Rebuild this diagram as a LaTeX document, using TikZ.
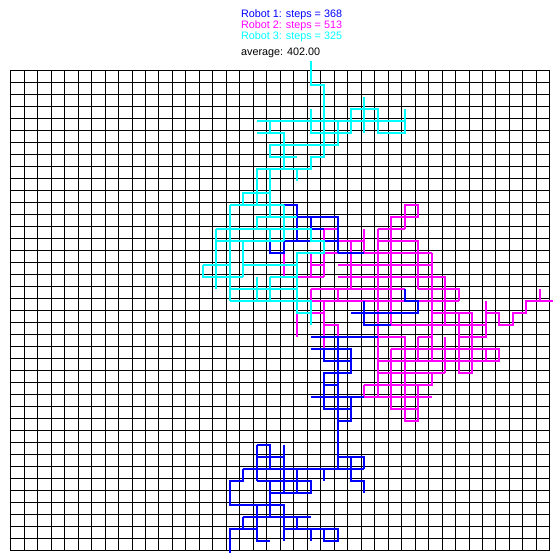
\documentclass[tikz,border=0pt]{standalone}
\usepackage{fontspec}
\setmainfont{Liberation Sans}
\definecolor{robotblue}{RGB}{0,0,255}
\definecolor{robotmagenta}{RGB}{255,0,255}
\definecolor{robotcyan}{RGB}{0,255,255}

\begin{document}
\begin{tikzpicture}[
  x=0.5pt, y=-0.5pt,
  label/.style={anchor=base west, inner sep=0pt, font=\fontsize{5.4}{6}\selectfont},
  gridline/.style={black, line width=0.5pt},
  robotA/.style={robotblue, line width=1pt},
  robotB/.style={robotmagenta, line width=1pt},
  robotC/.style={robotcyan, line width=1pt}
]
\useasboundingbox (0,0) rectangle (560,560);
\fill[white] (0,0) rectangle (560,560);

% Labels
\node[label, text=robotblue] (stepsone) at (240.7,17.3) {Robot 1: steps = 368};
\node[label, text=robotmagenta] (stepstwo) at (240.7,28.3) {Robot 2: steps = 513};
\node[label, text=robotcyan] (stepsthree) at (240.7,39.3) {Robot 3: steps = 325};
\node[label] (average) at (240.7,56) {average: 402.00};

% Grid 40 x 40, lines snapped to pixel centres
\foreach \k in {0,...,40} {
  \pgfmathsetmacro\gx{floor(10.7+13.48*\k)+0.5}
  \pgfmathsetmacro\gy{floor(70.7+12*\k)+0.5}
  \draw[gridline] (\gx,70.5) -- (\gx,550.5);
  \draw[gridline] (10.5,\gy) -- (549.5,\gy);
}

% Walks (grid points, slightly offset from the lines)
\begin{scope}[xshift=7pt, yshift=-36.35pt, x=6.74pt, y=-6pt]
% Robot 2
\draw[robotB] (29,13) -- (29,11) -- (30,11) -- (30,12) -- (28,12) -- (28,21)
  (27,13) -- (29,13)  (27,13) -- (27,27)
  (27,14) -- (30,14) -- (30,18)
  (23,13) -- (24,13) -- (24,15)  (23,13) -- (23,17)
  (26,13) -- (26,15)  (23,14) -- (26,14)
  (23,15) -- (31,15)  (25,14) -- (25,18)  (31,15) -- (31,24)
  (22,15) -- (22,17)  (22,16) -- (23,16)  (24,16) -- (31,16)
  (20,14) -- (20,17) -- (23,17)
  (24,17) -- (32,17) -- (32,21)
  (22,18) -- (29,18)  (30,18) -- (33,18) -- (33,19)
  (22,18) -- (22,19)  (24,18) -- (24,19)  (22,19) -- (33,19)
  (21,17) -- (21,22)  (21,20) -- (23,20)
  (23,19) -- (23,23) -- (24,23) -- (24,21) -- (23,21)
  (28,21) -- (35,21)
  (31,20) -- (34,20) -- (34,25) -- (33,25) -- (33,20)
  (35,19) -- (35,22) -- (33,22)
  (35,20) -- (36,20) -- (36,21) -- (37,21) -- (37,20) -- (38,20) -- (38,19) -- (40,19)
  (39,18) -- (39,19)
  (32,22) -- (32,25)
  (27,22) -- (29,22) -- (29,29) -- (30,29) -- (30,26)
  (30,22) -- (31,22)  (30,22) -- (30,24)
  (28,23) -- (36,23) -- (36,24) -- (27,24)  (35,23) -- (35,24)
  (28,23) -- (28,28) -- (30,28)
  (27,25) -- (32,25)
  (26,26) -- (31,26) -- (31,25)
  (26,26) -- (26,27) -- (31,27);
% Robot 1
\draw[robotA] (20,11) -- (21,11) -- (21,14)
  (21,12) -- (24,12) -- (24,15)  (22,12) -- (22,14)  (22,13) -- (23,13)
  (20,14) -- (24,14)  (20,14) -- (20,15) -- (19,15) -- (19,14)
  (24,15) -- (26,15)
  (29,18) -- (29,19) -- (30,19) -- (30,20) -- (25,20)
  (26,19) -- (26,21) -- (28,21)
  (22,22) -- (27,22)
  (22,23) -- (25,23) -- (25,25) -- (23,25) -- (23,28) -- (25,28)
  (23,23) -- (23,24) -- (25,24)  (23,26) -- (24,26)
  (24,22) -- (24,33)
  (22,27) -- (26,27)  (25,27) -- (25,29) -- (24,29)
  (24,32) -- (26,32) -- (26,33)
  (25,32) -- (25,34) -- (26,34) -- (26,35)
  (17,33) -- (26,33)  (23,33) -- (23,34)
  (17,33) -- (17,34) -- (16,34) -- (16,36) -- (20,36) -- (20,39)
  (18,31) -- (19,31) -- (19,33)  (18,31) -- (18,34)
  (18,32) -- (20,32)  (20,31) -- (20,35)
  (18,34) -- (22,34) -- (22,35) -- (19,35)  (21,33) -- (21,35)
  (19,34) -- (19,37)
  (18,36) -- (18,39) -- (19,39)
  (17,37) -- (22,37)  (17,37) -- (17,38) -- (16,38) -- (16,40)
  (16,38) -- (18,38)  (21,37) -- (21,38)
  (20,38) -- (24,38) -- (24,39) -- (23,39) -- (23,38)
  (22,38) -- (22,39);
% Robot 3
\draw[robotC] (22,-1) -- (22,1) -- (23,1) -- (23,7) -- (22,7) -- (22,8) -- (18,8) -- (18,11)
  (21,8) -- (21,9)
  (21,7) -- (19,7) -- (19,6) -- (24,6) -- (24,4)
  (20,8) -- (20,5) -- (18,5)  (19,5) -- (19,4)  (18,4) -- (29,4)
  (22,3) -- (22,5) -- (25,5) -- (25,3) -- (27,3) -- (27,5) -- (29,5) -- (29,3)
  (26,2) -- (26,5)
  (17,11) -- (17,10) -- (19,10)  (19,8) -- (19,12)
  (16,11) -- (20,11)  (18,13) -- (18,12) -- (21,12)
  (15,13) -- (22,13) -- (22,14) -- (23,14) -- (23,15) -- (21,15) -- (21,20) -- (22,20)
  (20,11) -- (20,14)  (16,11) -- (16,19)  (15,13) -- (15,18)
  (15,14) -- (20,14)  (19,13) -- (19,14)  (17,14) -- (17,17)
  (14,16) -- (16,16)  (14,16) -- (14,17) -- (17,17)
  (17,16) -- (21,16)  (19,17) -- (21,17)
  (19,17) -- (19,19)  (18,17) -- (18,19)
  (16,18) -- (21,18)  (16,19) -- (22,19) -- (22,21);
\end{scope}
\end{tikzpicture}
\end{document}
